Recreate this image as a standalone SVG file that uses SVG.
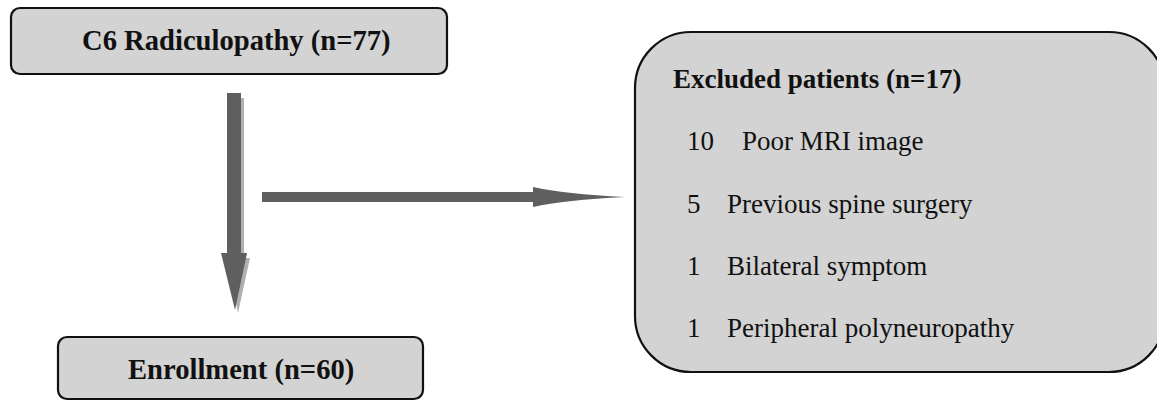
<svg xmlns="http://www.w3.org/2000/svg" width="1157" height="401" viewBox="0 0 1157 401">
<style>
.box{fill:#d3d3d3;stroke:#111;stroke-width:2.2}
.b{font-family:"Liberation Serif",serif;font-weight:bold;fill:#111}
.r{font-family:"Liberation Serif",serif;fill:#111;font-size:27px}
.arr{fill:#5f5f5f}
.sh{fill:#b0b0b0}
</style>
<rect width="1157" height="401" fill="#fff"/>
<g id="connectors">
<path class="sh" d="M232,98 H244 V258 H250 L238,313 L226,258 H232 Z"/>
<path class="arr" d="M227,93 H241 V253 H247 L235,310 L221,253 H227 Z"/>
<path class="arr" d="M262,192 H533 V187 Q565,194 625,197 Q565,200 533,207 V202 H262 Z"/>
</g>
<g id="node-c6">
<rect class="box" x="11" y="8" width="436" height="66" rx="9"/>
<text class="b" x="82" y="50" font-size="28.6">C6 Radiculopathy (n=77)</text>
</g>
<g id="node-enroll">
<rect class="box" x="58" y="337" width="365" height="62" rx="9"/>
<text class="b" x="128" y="379" font-size="28.6">Enrollment (n=60)</text>
</g>
<g id="node-excluded">
<rect class="box" x="635" y="32" width="530" height="340" rx="56"/>
<text class="b" x="673" y="88" font-size="27">Excluded patients (n=17)</text>
<text class="r" x="687" y="150">10</text><text class="r" x="742" y="150">Poor MRI image</text>
<text class="r" x="687" y="213">5</text><text class="r" x="727" y="213">Previous spine surgery</text>
<text class="r" x="687" y="275">1</text><text class="r" x="727" y="275">Bilateral symptom</text>
<text class="r" x="687" y="337">1</text><text class="r" x="727" y="337">Peripheral polyneuropathy</text>
</g>
</svg>
